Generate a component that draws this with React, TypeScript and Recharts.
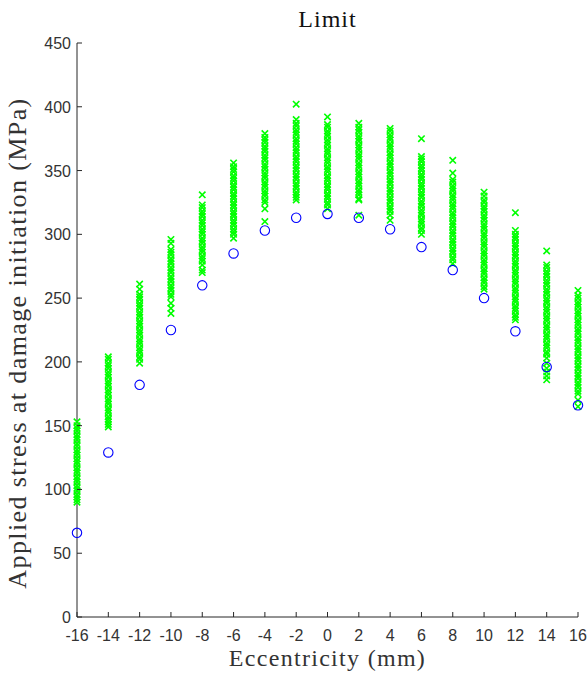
import React from "react";
import { ScatterChart, Scatter, XAxis, YAxis, Label } from "recharts";

// eccentricity positions (mm) and the blue "limit" circles
const ECCENTRICITY = [-16, -14, -12, -10, -8, -6, -4, -2, 0, 2, 4, 6, 8, 10, 12, 14, 16];
const LIMIT = [66, 129, 182, 225, 260, 285, 303, 313, 316, 313, 304, 290, 272, 250, 224, 196, 166];

const X_TICKS = ECCENTRICITY;
const Y_TICKS = [0, 50, 100, 150, 200, 250, 300, 350, 400, 450];

// green samples, one list per eccentricity
const S_M16 = [153, 150, 148, 146, 143, 141, 139, 136, 134, 131, 129, 127, 124, 122, 120, 117, 115, 113, 110, 108, 106, 103, 101, 99, 96, 94, 92, 90];
const S_M14 = [204, 202, 199, 197, 195, 192, 190, 188, 185, 183, 181, 178, 176, 174, 171, 169, 167, 164, 162, 160, 157, 155, 153, 151, 149];
const S_M12 = [261, 257, 253, 251, 249, 246, 244, 242, 239, 237, 235, 232, 230, 228, 225, 223, 221, 218, 216, 214, 211, 209, 207, 204, 202, 199];
const S_M10 = [296, 293, 288, 286, 284, 281, 279, 277, 274, 272, 270, 267, 265, 263, 260, 258, 256, 253, 251, 246, 242, 238];
const S_M8 = [331, 323, 321, 318, 316, 314, 311, 309, 307, 304, 302, 300, 297, 295, 293, 290, 288, 286, 283, 281, 279, 276, 272, 270];
const S_M6 = [356, 353, 351, 349, 346, 344, 342, 339, 337, 335, 332, 330, 328, 325, 323, 321, 318, 316, 314, 311, 309, 307, 304, 302, 300, 297];
const S_M4 = [379, 376, 374, 372, 369, 367, 365, 362, 360, 358, 355, 353, 351, 348, 346, 344, 341, 339, 337, 334, 332, 330, 327, 325, 320, 310];
const S_M2 = [402, 390, 387, 385, 382, 380, 378, 375, 373, 371, 368, 366, 364, 361, 359, 357, 354, 352, 350, 347, 345, 343, 340, 338, 336, 333, 331, 329, 327];
const S_0 = [392, 386, 384, 381, 379, 377, 374, 372, 370, 367, 365, 363, 360, 358, 356, 353, 351, 349, 346, 344, 342, 339, 337, 335, 332, 330, 328, 325, 323, 320];
const S_2 = [387, 384, 382, 380, 377, 375, 373, 370, 368, 366, 363, 361, 359, 356, 354, 352, 349, 347, 345, 342, 340, 338, 335, 333, 331, 328, 327, 315];
const S_4 = [383, 381, 378, 376, 374, 371, 369, 367, 364, 362, 360, 357, 355, 353, 350, 348, 346, 343, 341, 339, 336, 334, 332, 329, 327, 325, 322, 320, 318, 315, 311];
const S_6 = [375, 361, 359, 357, 354, 352, 350, 347, 345, 343, 340, 338, 336, 333, 331, 329, 326, 324, 322, 319, 317, 315, 312, 310, 308, 305, 303, 300];
const S_8 = [358, 348, 343, 341, 338, 336, 334, 331, 329, 327, 324, 322, 320, 317, 315, 313, 310, 308, 306, 303, 301, 299, 296, 294, 292, 289, 287, 285, 282, 280, 277];
const S_10 = [333, 330, 327, 325, 322, 320, 318, 315, 313, 311, 308, 306, 304, 301, 299, 297, 294, 292, 290, 287, 285, 283, 280, 278, 276, 273, 271, 269, 266, 264, 262, 259, 257];
const S_12 = [317, 303, 300, 298, 296, 293, 291, 289, 286, 284, 282, 279, 277, 275, 272, 270, 268, 265, 263, 261, 258, 256, 254, 251, 249, 247, 244, 242, 240, 237, 235, 233];
const S_14 = [287, 276, 274, 271, 269, 267, 264, 262, 260, 257, 255, 253, 250, 248, 246, 243, 241, 239, 236, 234, 232, 229, 227, 225, 222, 220, 218, 215, 213, 211, 208, 206, 203, 199, 195, 192, 189, 186];
const S_16 = [256, 252, 250, 247, 245, 243, 240, 238, 236, 233, 231, 229, 226, 224, 222, 219, 217, 215, 212, 210, 208, 205, 203, 201, 198, 196, 194, 191, 189, 187, 184, 182, 180, 177, 175, 170, 165];

const SAMPLES = [S_M16, S_M14, S_M12, S_M10, S_M8, S_M6, S_M4, S_M2, S_0, S_2, S_4, S_6, S_8, S_10, S_12, S_14, S_16];

const limitPoints = ECCENTRICITY.map((x, i) => ({ x, y: LIMIT[i] }));
const samplePoints = ECCENTRICITY.flatMap((x, i) => SAMPLES[i].map((y) => ({ x, y })));

const AXIS = "#262626";
const TICK_FONT = "'Liberation Sans', Arial, sans-serif";
const LABEL_FONT = "'Liberation Serif', 'Times New Roman', serif";

function CrossMark(props: any) {
  const { cx, cy } = props;
  const s = 3.2;
  return (
    <path
      d={`M${cx - s},${cy - s}L${cx + s},${cy + s}M${cx - s},${cy + s}L${cx + s},${cy - s}`}
      stroke="#00ff00"
      strokeWidth={1.6}
      fill="none"
    />
  );
}

function CircleMark(props: any) {
  const { cx, cy } = props;
  return <circle cx={cx} cy={cy} r={4.7} fill="none" stroke="#0000ff" strokeWidth={1.1} />;
}

function XTick({ x, y, payload }: any) {
  return (
    <g>
      <line x1={x} x2={x} y1={y} y2={y - 5} stroke={AXIS} />
      <text x={x} y={y + 24} textAnchor="middle" fontSize={16} fontFamily={TICK_FONT} fill="#333">
        {payload.value}
      </text>
    </g>
  );
}

function YTick({ x, y, payload }: any) {
  return (
    <g>
      <line x1={x} x2={x + 5} y1={y} y2={y} stroke={AXIS} />
      <text x={x - 6} y={y + 6} textAnchor="end" fontSize={16} fontFamily={TICK_FONT} fill="#333">
        {payload.value}
      </text>
    </g>
  );
}

export default function App() {
  return (
    <div style={{ position: "absolute", left: 0, top: 0, width: 588, height: 675, background: "#fff" }}>
      <div
        style={{
          position: "absolute",
          left: 77,
          width: 501,
          top: 6,
          textAlign: "center",
          fontFamily: LABEL_FONT,
          fontSize: 24,
          letterSpacing: 1,
          color: "#111",
        }}
      >
        Limit
      </div>
      <ScatterChart width={588} height={675} margin={{ top: 43, right: 10, bottom: 28, left: 37 }}>
        <XAxis
          type="number"
          dataKey="x"
          domain={[-16, 16]}
          ticks={X_TICKS}
          interval={0}
          height={30}
          tickSize={0}
          tickMargin={0}
          tickLine={false}
          axisLine={{ stroke: AXIS }}
          tick={<XTick />}
        >
          <Label
            content={() => (
              <text x={327.5} y={666} textAnchor="middle" fontSize={24} letterSpacing={1.3} fontFamily={LABEL_FONT} fill="#333">
                Eccentricity (mm)
              </text>
            )}
          />
        </XAxis>
        <YAxis
          type="number"
          dataKey="y"
          domain={[0, 450]}
          ticks={Y_TICKS}
          interval={0}
          width={40}
          tickSize={0}
          tickMargin={0}
          tickLine={false}
          axisLine={{ stroke: AXIS }}
          tick={<YTick />}
        >
          <Label
            content={() => (
              <text
                x={26}
                y={343}
                transform="rotate(-90 26 343)"
                textAnchor="middle"
                fontSize={26}
                letterSpacing={1.4}
                fontFamily={LABEL_FONT}
                fill="#333"
              >
                Applied stress at damage initiation (MPa)
              </text>
            )}
          />
        </YAxis>
        <Scatter data={samplePoints} shape={<CrossMark />} isAnimationActive={false} />
        <Scatter data={limitPoints} shape={<CircleMark />} isAnimationActive={false} />
      </ScatterChart>
    </div>
  );
}
